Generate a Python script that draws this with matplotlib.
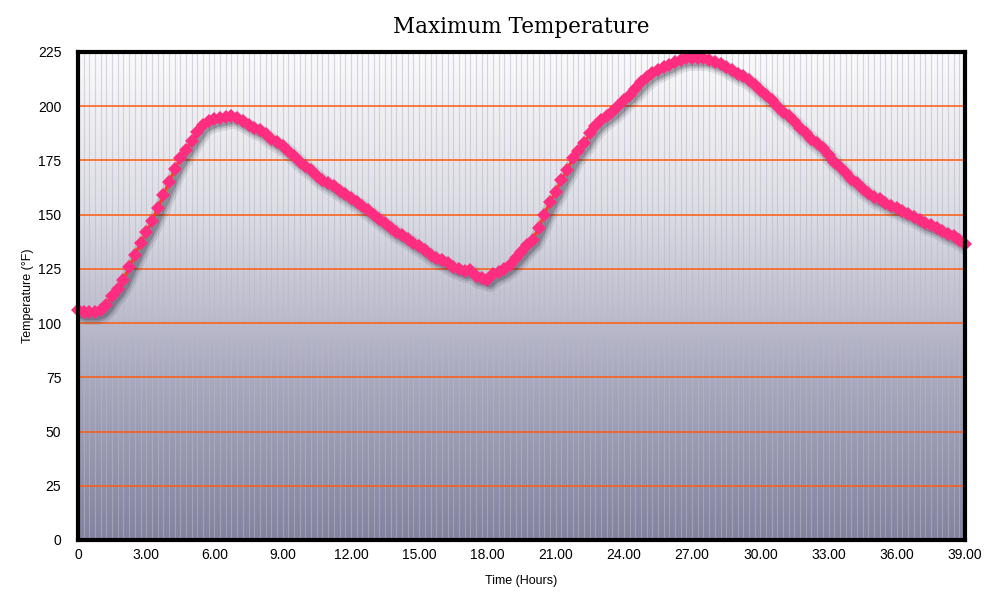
import numpy as np
import matplotlib
matplotlib.use("Agg")
import matplotlib.pyplot as plt
import matplotlib.patheffects as pe

# Temperatura maxima cada 15 minutos (0 a 39 horas)
horas = [i * 0.25 for i in range(157)]
temperatura = [
    106, 105, 105, 105, 106, 108.5, 112.5, 115.5,
    120, 126, 131.5, 137, 142, 147, 153, 159,
    165, 171, 176, 180, 184, 188, 191.5, 193,
    194, 194.5, 195, 195.5, 194.5, 193, 191.5, 190,
    189, 187, 185, 183.5, 181.5, 179.5, 177, 174.5,
    172.5, 170.5, 168, 166, 164.5, 163, 161, 159.5,
    157.5, 156, 154, 152, 150, 148, 146, 144,
    142, 140.5, 139, 137, 135.5, 133.5, 131.5, 130,
    129, 127.5, 126, 125, 124, 124.5, 121.5, 121,
    120, 122.5, 123.5, 125, 127, 130, 133, 136,
    138.5, 144, 150, 156, 160.5, 166, 170.5, 176,
    179.5, 183, 187.5, 191, 193.5, 195.5, 197.5, 200,
    203, 205, 208, 211, 213.5, 215.5, 216.5, 218,
    219, 220.5, 221.5, 222, 222, 222, 222, 221.5,
    220.5, 219.5, 218, 216.5, 215, 214, 212, 210,
    207.5, 205, 203, 200, 197.5, 195.5, 193, 190,
    187.5, 185, 183, 180.5, 177.5, 174.5, 172, 169,
    166.5, 164.5, 162, 160, 158, 157, 155.5, 154,
    153, 151.5, 150.5, 149, 147.5, 146, 145, 144,
    142.5, 141, 140, 138.5, 136.5,
]
ticks_x = [0, 3, 6, 9, 12, 15, 18, 21, 24, 27, 30, 33, 36, 39]
etiquetas_x = ["0"] + [f"{t:.2f}" for t in ticks_x[1:]]
ticks_y = list(range(0, 226, 25))

fig = plt.figure(figsize=(9.92, 6.03), dpi=100)
ax = fig.add_axes([0.0786, 0.1045, 0.8942, 0.8093])

# Fondo con degradado (claro arriba, oscuro abajo)
grad = np.linspace(0, 1, 256).reshape(-1, 1)
cmap = matplotlib.colors.LinearSegmentedColormap.from_list(
    "fondo", ["#fbfbfd", "#dcdce4", "#a9a9bf", "#83839f"])
ax.imshow(grad, aspect="auto", cmap=cmap, extent=[0, 39, 0, 225], zorder=0)

# Lineas verticales finas en cada punto
for h in horas:
    ax.axvline(h, color="#b8b8c8", lw=0.8, alpha=0.55, zorder=1)
# Lineas horizontales naranjas
for t in ticks_y[1:-1]:
    ax.axhline(t, color="#ff5a10", lw=1.1, zorder=2)

# Sombra difusa debajo de la curva
for w, a in [(12, 0.10), (8.5, 0.16), (5.5, 0.24)]:
    ax.plot(horas, temperatura, color="#202030", lw=w, alpha=a, zorder=3,
            solid_capstyle="round", solid_joinstyle="round",
            path_effects=[pe.Stroke(offset=(2, -3), linewidth=w, foreground="#202030", alpha=a)])
ax.plot(horas, temperatura, color="#ff4010", lw=2, zorder=4)
ax.plot(horas, temperatura, ls="none", marker="D", ms=7, color="#ff2d80",
        markeredgewidth=0, zorder=5, clip_on=False)

ax.set_xlim(0, 39)
ax.set_ylim(0, 225)
ax.set_xticks(ticks_x)
ax.set_xticklabels(etiquetas_x)
ax.set_yticks(ticks_y)
ax.tick_params(length=0, labelsize=10)
ax.tick_params(axis="x", pad=6)
ax.tick_params(axis="y", pad=12)
for lab in ax.get_xticklabels() + ax.get_yticklabels():
    lab.set_fontfamily("Liberation Sans")
for s in ax.spines.values():
    s.set_linewidth(3)
    s.set_color("black")
    s.set_zorder(6)

ax.set_xlabel("Time (Hours)", fontsize=9, family="Liberation Sans", labelpad=9)
ax.set_ylabel("Temperature (°F)", fontsize=9, family="Liberation Sans", labelpad=3)
ax.set_title("Maximum Temperature", fontsize=15.5, family="DejaVu Serif", pad=14)

fig.savefig("out.png", dpi=100)
